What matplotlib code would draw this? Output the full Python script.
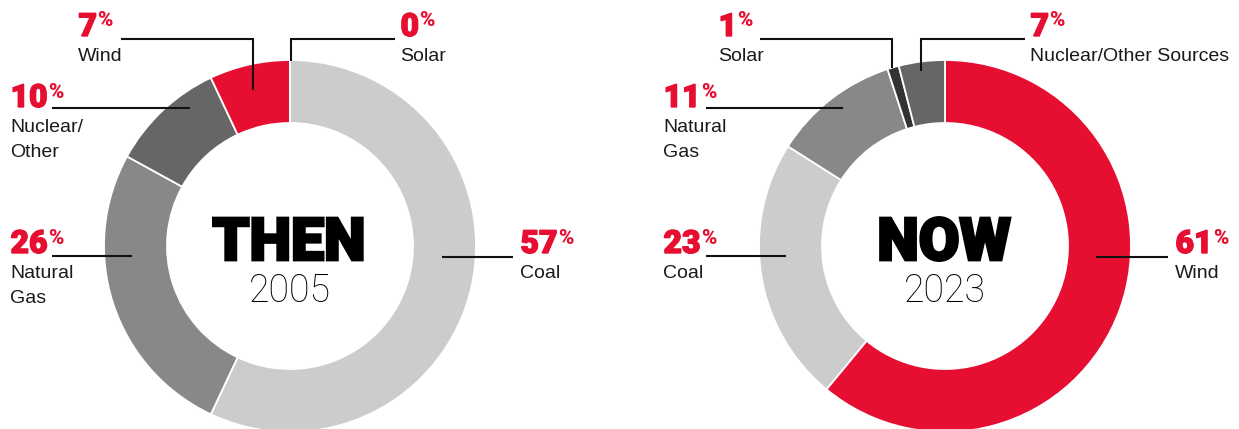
import matplotlib
matplotlib.use('Agg')
import matplotlib.pyplot as plt
import matplotlib.patheffects as pe

W, H = 1239, 429

# ---------------- data ----------------
then_labels = ['Coal', 'Natural Gas', 'Nuclear/Other', 'Wind', 'Solar']
then_values = [57, 26, 10, 7, 0]
now_labels = ['Wind', 'Coal', 'Natural Gas', 'Solar', 'Nuclear/Other Sources']
now_values = [61, 23, 11, 1, 7]
titles = ['THEN', 'NOW']
years = ['2005', '2023']

# ---------------- style ----------------
RED = '#e60e31'
COLORS = {'Coal': '#cccccc', 'Natural Gas': '#888888', 'Nuclear/Other': '#666666',
          'Nuclear/Other Sources': '#666666', 'Wind': RED, 'Solar': '#333333'}
TEXT = '#1a1a1a'
LINE = '#111111'

# layout: centre of each donut (pixels), radius, ring width
centres = [(290, 246), (945, 246)]
R_OUT, RING = 186, 63

# label layout per chart: text x, percentage baseline y, text lines, leader polyline
label_layout = [
    {
        'Coal': (520, 253, ['Coal'], [(442, 257), (513, 257)]),
        'Natural Gas': (10, 253, ['Natural', 'Gas'], [(52, 256), (132, 256)]),
        'Nuclear/Other': (10, 107, ['Nuclear/', 'Other'], [(52, 108), (190, 108)]),
        'Wind': (78, 36, ['Wind'], [(121, 39), (253, 39), (253, 90)]),
        'Solar': (400, 36, ['Solar'], [(395, 39), (291, 39), (291, 61)]),
    },
    {
        'Wind': (1175, 253, ['Wind'], [(1096, 257), (1168, 257)]),
        'Coal': (663, 253, ['Coal'], [(706, 256), (786, 256)]),
        'Natural Gas': (663, 107, ['Natural', 'Gas'], [(706, 108), (843, 108)]),
        'Solar': (718, 36, ['Solar'], [(760, 39), (892, 39), (892, 68)]),
        'Nuclear/Other Sources': (1030, 36, ['Nuclear/Other Sources'], [(1025, 39), (921, 39), (921, 71)]),
    },
]

fig = plt.figure(figsize=(W / 100, H / 100), dpi=100)
fig.patch.set_facecolor('white')
ax = fig.add_axes([0, 0, 1, 1])

charts = [(then_labels, then_values), (now_labels, now_values)]
for (labels, values), (cx, cy) in zip(charts, centres):
    # published percentages are rounded; the ring is filled clockwise and the
    # last segment takes whatever remains of the circle
    drawn, used = [], 0
    for v in values:
        d = max(0, min(v, 100 - used))
        drawn.append(d)
        used += d
    ax.pie(drawn, colors=[COLORS[l] for l in labels], startangle=-90,
           counterclock=True, radius=R_OUT, center=(cx, cy),
           wedgeprops=dict(width=RING, edgecolor='white', linewidth=1.3))

ax.set_xlim(0, W)
ax.set_ylim(H, 0)
ax.set_aspect('equal')
ax.set_axis_off()

fig.canvas.draw()
renderer = fig.canvas.get_renderer()
inv = ax.transData.inverted()

heavy_red = [pe.withStroke(linewidth=1.0, foreground=RED, joinstyle='miter')]
for (labels, values), layout in zip(charts, label_layout):
    for lab, val in zip(labels, values):
        tx, by, lines, leader = layout[lab]
        t = ax.text(tx + 0.5, by, str(val), color=RED, fontsize=23, family='Roboto',
                    fontweight='black', ha='left', va='baseline',
                    path_effects=heavy_red)
        bb = t.get_window_extent(renderer)
        x_end = inv.transform((bb.x1, bb.y0))[0]
        ax.text(x_end + 0.5, by - 9.5, '%', color=RED, fontsize=15, family='Roboto',
                fontweight='black', ha='left', va='baseline')
        for i, ln in enumerate(lines):
            ax.text(tx, by + 25 * (i + 1), ln, color=TEXT, fontsize=14,
                    family='Liberation Sans', ha='left', va='baseline')
        xs = [p[0] for p in leader]
        ys = [p[1] for p in leader]
        ax.plot(xs, ys, color=LINE, lw=1.5, solid_capstyle='butt',
                solid_joinstyle='miter')

heavy_black = [pe.withStroke(linewidth=2.0, foreground='black', joinstyle='miter')]
for title, year, (cx, cy) in zip(titles, years, centres):
    ax.text(cx - 1, 260, title, color='black', fontsize=42.5, family='Roboto',
            fontweight='black', ha='center', va='baseline',
            path_effects=heavy_black)
    ax.text(cx, 302, year, color='black', fontsize=27, family='Roboto',
            fontweight='light', ha='center', va='baseline')

fig.savefig('out.png', dpi=100, facecolor='white')
